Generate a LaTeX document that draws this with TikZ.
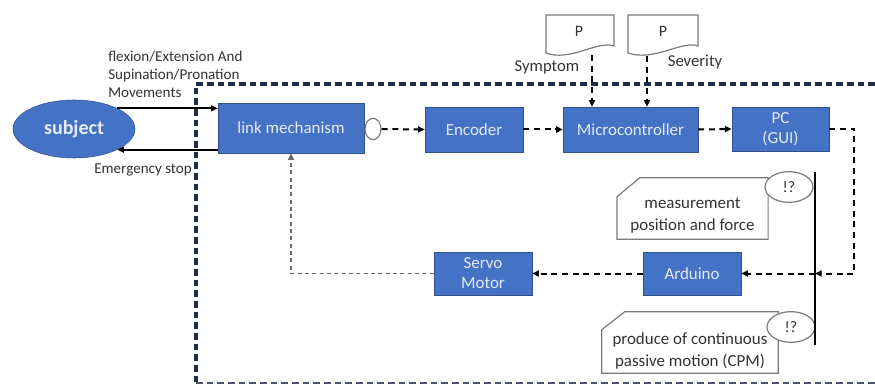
\documentclass[tikz,border=0pt]{standalone}
\usepackage{fontspec}
\setmainfont{Carlito}
\usetikzlibrary{arrows.meta,shapes.geometric}
\definecolor{boxblue}{HTML}{4472C4}
\definecolor{boxedge}{HTML}{2F528F}
\definecolor{boxtext}{HTML}{E4EAF6}
\definecolor{framenavy}{HTML}{1F2B47}
\definecolor{calloutgray}{HTML}{7A7A7A}
\definecolor{inktext}{HTML}{333333}
\tikzset{
  block/.style={draw=boxedge,fill=boxblue,text=boxtext,align=center,
    font=\fontsize{12.7}{15}\selectfont},
  plain/.style={text=inktext,font=\fontsize{11.3}{13.5}\selectfont,inner sep=0pt},
  biglabel/.style={text=inktext,font=\fontsize{12.5}{15}\selectfont,inner sep=0pt},
  flow/.style={line width=1.5pt,-{Triangle[length=5pt,width=4.5pt]}},
  dashflow/.style={flow,dash pattern=on 4.5pt off 3.5pt},
  backflow/.style={draw=gray!85!black,line width=1.1pt,dash pattern=on 3pt off 2.5pt,
    -{Triangle[length=5pt,width=4.5pt]}},
  framing/.style={draw=framenavy,line width=2.6pt,dash pattern=on 5pt off 3pt},
  docbox/.style={inner sep=0pt,text=inktext,font=\fontsize{12}{14}\selectfont},
  callbox/.style={minimum height=45.75pt,inner sep=0pt},
  calltext/.style={align=center,text=inktext,font=\fontsize{12.7}{16.5}\selectfont,inner sep=0pt},
  query/.style={ellipse,draw=calloutgray,line width=0.9pt,fill=white,minimum width=36pt,
    minimum height=23pt,inner sep=0pt,text=inktext,font=\fontsize{12}{14}\selectfont}
}
\begin{document}
\begin{tikzpicture}[x=0.75pt,y=-0.75pt]
  \useasboundingbox (0,0) rectangle (875,385);
  % outer frame
  \draw[framing] (875,84) -- (196,84) -- (196,383);
  \draw[framing,line width=1.6pt,draw=framenavy!80] (196,383) -- (875,383);
  % subject and its labels
  \node[ellipse,draw=boxedge,fill=boxblue,text=boxtext,minimum width=91.5pt,minimum height=43.5pt,
    font=\fontsize{15}{18}\selectfont\bfseries] (subject) at (74,129) {subject};
  \node[plain,anchor=west,align=left] (movelabel) at (108,74)
    {flexion/Extension And\\Supination/Pronation\\Movements};
  \node[plain,anchor=east] (stoplabel) at (192,170) {Emergency stop};
  % main chain
  \node[block,minimum width=109.5pt,minimum height=37.5pt] (link) at (291,128) {link mechanism};
  \node[ellipse,draw=calloutgray,line width=0.9pt,fill=white,minimum width=12pt,minimum height=16pt,
    inner sep=0pt] (joint) at (373,129) {};
  \node[block,minimum width=73.5pt,minimum height=33.75pt] (encoder) at (474,129.5) {Encoder};
  \node[block,minimum width=101pt,minimum height=33.75pt] (micro) at (630.5,129.5) {Microcontroller};
  \node[block,minimum width=73pt,minimum height=33pt] (pc) at (780.5,129) {PC\\(GUI)};
  \node[block,minimum width=73.5pt,minimum height=32pt] (arduino) at (692,273.5) {Arduino};
  \node[block,minimum width=73.5pt,minimum height=32pt] (servo) at (483,273.5) {Servo\\Motor};
  % documents
  \draw[calloutgray,line width=0.9pt] (546,15) -- (614,15) -- (614,46)
    .. controls (598,40) and (570,62) .. (546,53) -- cycle;
  \draw[calloutgray,line width=0.9pt] (628,15) -- (698,15) -- (698,46)
    .. controls (682,40) and (654,62) .. (628,53) -- cycle;
  \node[docbox] (symptomdoc) at (579,31) {P};
  \node[docbox] (severitydoc) at (663,31) {P};
  \node[biglabel] (symptomlabel) at (547,67) {Symptom};
  \node[biglabel] (severitylabel) at (695,62) {Severity};
  \coordinate (symptomout) at (592,55);
  \coordinate (severityout) at (647,56);
  % callouts
  \node[callbox,minimum width=113pt] (measbox) at (692.5,208.5) {};
  \draw[calloutgray,line width=0.9pt,fill=white] ([yshift=-14.25pt]measbox.north west)
    -- ([xshift=17.25pt]measbox.north west) -- (measbox.north east)
    -- (measbox.south east) -- (measbox.south west) -- cycle;
  \node[calltext] (meastext) at ([yshift=-5.6pt]measbox.center) {measurement\\position and force};
  \node[callbox,minimum width=132pt] (cpmbox) at (690,342.5) {};
  \draw[calloutgray,line width=0.9pt,fill=white] ([yshift=-13.5pt]cpmbox.north west)
    -- ([xshift=17.25pt]cpmbox.north west) -- (cpmbox.north east)
    -- (cpmbox.south east) -- (cpmbox.south west) -- cycle;
  \node[calltext] (cpmtext) at ([yshift=-6pt]cpmbox.center) {produce of continuous\\passive motion (CPM)};
  \node[query] (measq) at (789,187) {!?};
  \node[query] (cpmq) at (791,327) {!?};
  \coordinate (bartop) at (815,172);
  \coordinate (barbot) at (815,345);
  \coordinate (barjoin) at (bartop |- arduino.east);
  \draw[line width=1.5pt] (bartop) -- (barbot);
  % connectors
  \draw[flow] (subject.north east) -- (subject.north east -| link.west);
  \draw[flow] (subject.south east -| link.west) -- (subject.south east);
  \draw[dashflow] (joint.east) -- (encoder.west);
  \draw[dashflow] (encoder.east) -- (micro.west);
  \draw[dashflow] (micro.east) -- (pc.west);
  \draw[dashflow] (symptomout) -- (symptomout |- micro.north);
  \draw[dashflow] (severityout) -- (severityout |- micro.north);
  \draw[dashflow] (pc.east) -- ++(18.75pt,0) |- (barjoin);
  \draw[dashflow] (barjoin) -- (arduino.east);
  \draw[dashflow] (arduino.west) -- (servo.east);
  \draw[backflow] (servo.west) -| (link.south);
\end{tikzpicture}
\end{document}
